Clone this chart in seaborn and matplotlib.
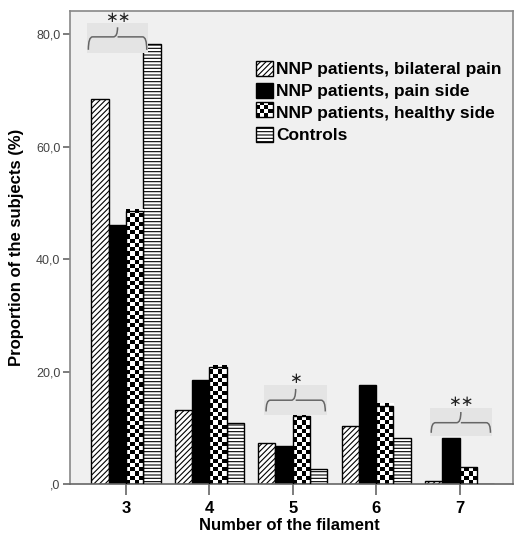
# grouped bar chart: proportion of subjects per filament number

import numpy as np
import pandas as pd
import seaborn as sns
import matplotlib
matplotlib.use('Agg')
import matplotlib.pyplot as plt
from matplotlib.patches import Patch, Rectangle, PathPatch
from matplotlib.path import Path
from matplotlib.ticker import FuncFormatter

filaments = ['3', '4', '5', '6', '7']
groups = ['NNP patients, bilateral pain', 'NNP patients, pain side',
          'NNP patients, healthy side', 'Controls']
bilateral = [68.4, 13.2, 7.3, 10.3, 0.6]
pain_side = [46.0, 18.5, 6.8, 17.6, 8.2]
healthy_side = [48.5, 20.8, 12.1, 13.9, 3.0]
controls = [78.2, 10.8, 2.7, 8.2, 0.0]
# significance marks: (filament index, label)
signif = [(0, '**'), (2, '*'), (4, '**')]

rows = []
for g, vals in zip(groups, [bilateral, pain_side, healthy_side, controls]):
    for f, v in zip(filaments, vals):
        rows.append({'filament': f, 'value': v, 'group': g})
df = pd.DataFrame(rows)

sns.set_style('white')
plt.rcParams['font.family'] = ['Liberation Sans', 'DejaVu Sans']
plt.rcParams['hatch.linewidth'] = 0.8
plt.rcParams['text.color'] = 'black'
plt.rcParams['axes.labelcolor'] = 'black'
plt.rcParams['xtick.labelcolor'] = 'black'

fig = plt.figure(figsize=(5.14, 5.39), dpi=100)
ax = fig.add_axes([70 / 514, 1 - 484 / 539, 443 / 514, 473 / 539])
ax.set_facecolor('#f0f0f0')

sns.barplot(data=df, x='filament', y='value', hue='group',
            palette=['white', 'black', 'white', 'white'], saturation=1,
            edgecolor='black', linewidth=1, width=0.83, ax=ax, legend=False)

hatches = ['//////', None, None, '-----']
for cont, h in zip(ax.containers, hatches):
    for bar in cont:
        if h:
            bar.set_hatch(h)

xlim = (-0.67, 4.64)
ylim = (0, 84.1)

# checkerboard fill for the healthy side bars
cell_h = 0.75
for bar in ax.containers[2]:
    x, y, w, h = bar.get_x(), bar.get_y(), bar.get_width(), bar.get_height()
    nr = int(np.ceil(h / cell_h))
    pat = np.indices((nr, 4)).sum(0) % 2
    ax.imshow(pat, cmap='gray', extent=(x, x + w, y, y + nr * cell_h),
              origin='lower', aspect='auto', interpolation='nearest',
              clip_path=bar, zorder=2.5)
    bar.set_facecolor('none')
    bar.set_zorder(3)

ax.set_xlim(*xlim)
ax.set_ylim(*ylim)
ax.set_aspect('auto')


def brace(ax, xc, x0, x1, y_end, y_mid, y_tip):
    rx = 0.05
    verts = [(x0, y_end), (x0, y_mid), (x0 + rx, y_mid),
             (xc - rx, y_mid), (xc, y_mid), (xc, y_tip),
             (xc, y_mid), (xc + rx, y_mid),
             (x1 - rx, y_mid), (x1, y_mid), (x1, y_end)]
    codes = [Path.MOVETO, Path.CURVE3, Path.CURVE3,
             Path.LINETO, Path.CURVE3, Path.CURVE3,
             Path.MOVETO, Path.LINETO,
             Path.LINETO, Path.CURVE3, Path.CURVE3]
    ax.add_patch(PathPatch(Path(verts, codes), facecolor='none',
                           edgecolor='#666666', lw=1.1, zorder=5))


brace_specs = {0: (-0.45, 0.25, 77.2, 79.5, 81.2, 82.9),
               2: (-0.32, 0.39, 12.9, 14.9, 16.9, 18.6),
               4: (-0.34, 0.37, 9.1, 10.9, 12.8, 14.6)}
for idx, lab in signif:
    a, b, ye, ym, yt, ys = brace_specs[idx]
    ax.add_patch(Rectangle((idx + a - 0.02, ye - 0.6), b - a + 0.04, yt - ye + 1.3,
                           facecolor='#e4e4e4', edgecolor='none', zorder=4))
    brace(ax, idx + (a + b) / 2, idx + a, idx + b, ye, ym, yt)
    ax.text(idx + (a + b) / 2, ys, lab.replace('*', '\u2217'), ha='center',
            va='center', fontsize=11, color='#222222', zorder=5)

ax.yaxis.set_major_formatter(FuncFormatter(
    lambda v, p: (lambda s: s[1:] if s.startswith('0,') else s)(f"{v:.1f}".replace('.', ','))))
ax.set_yticks([0, 20, 40, 60, 80])
ax.tick_params(axis='y', direction='out', length=5, width=1.2, color='#666666',
               labelsize=9, labelcolor='#444444', left=True, pad=2)
ax.tick_params(axis='x', direction='out', length=8, width=1.2, color='#666666',
               labelsize=12, labelcolor='black', bottom=True, pad=4)
for t in ax.get_xticklabels():
    t.set_fontweight('bold')

for s in ax.spines.values():
    s.set_color('#888888')
    s.set_linewidth(1.2)
ax.spines['bottom'].set_color('#666666')

ax.set_xlabel('Number of the filament', fontsize=12, fontweight='bold', va='center', color='black')
ax.set_ylabel('Proportion of the subjects (%)', fontsize=12, fontweight='bold', va='center', color='black')
ax.xaxis.set_label_coords(0.5 - 0.005, -(525 - 484) / 473)
ax.yaxis.set_label_coords(-(70 - 17) / 443, 0.5)


class CheckerHandler:
    def legend_artist(self, legend, orig_handle, fontsize, handlebox):
        x0, y0 = handlebox.xdescent, handlebox.ydescent
        w, h = handlebox.width, handlebox.height
        n = 4
        for i in range(n):
            for j in range(n):
                c = 'black' if (i + j) % 2 == 0 else 'white'
                handlebox.add_artist(Rectangle((x0 + i * w / n, y0 + j * h / n), w / n, h / n,
                                               facecolor=c, edgecolor='none',
                                               transform=handlebox.get_transform()))
        border = Rectangle((x0, y0), w, h, facecolor='none', edgecolor='black', lw=1,
                           transform=handlebox.get_transform())
        handlebox.add_artist(border)
        return border


checker = Patch(facecolor='white', edgecolor='black')
handles = [Patch(facecolor='white', edgecolor='black', hatch='//////'),
           Patch(facecolor='black', edgecolor='black'),
           checker,
           Patch(facecolor='white', edgecolor='black', hatch='-----')]
leg = ax.legend(handles, groups, loc='upper left', bbox_to_anchor=(0.42, 0.895),
                frameon=False, borderaxespad=0, borderpad=0, handlelength=0.95,
                handleheight=0.95, handletextpad=0.2, labelspacing=0.32,
                prop={'size': 12.5, 'weight': 'bold'},
                handler_map={checker: CheckerHandler()})
for t in leg.get_texts():
    t.set_color('black')

fig.savefig('out.png', dpi=100)
